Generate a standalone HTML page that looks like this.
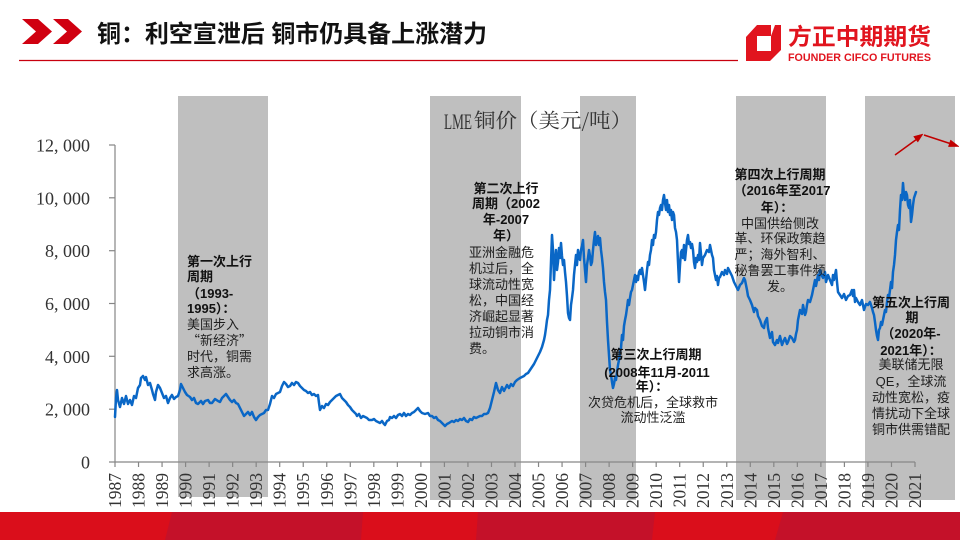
<!DOCTYPE html>
<html><head><meta charset="utf-8"><style>
html,body{margin:0;padding:0;background:#fff;}
svg{display:block;}
.ann{font-family:"Liberation Sans","Noto Sans CJK SC",sans-serif;font-size:13px;fill:#1e1e1e;}
.b{font-weight:700;fill:#111;}
.yl{font-family:"Liberation Serif","Noto Serif CJK SC",serif;font-size:18px;fill:#333;}
.xl{font-family:"Liberation Serif","Noto Serif CJK SC",serif;font-size:17.5px;fill:#333;}
</style></head><body>
<svg width="960" height="540" viewBox="0 0 960 540" xmlns="http://www.w3.org/2000/svg">
<rect x="0" y="0" width="960" height="540" fill="#fff"/>
<!-- header -->
<polygon points="22,19 38,19 52,31.5 38,44 22,44 36,31.5" fill="#D00010"/>
<polygon points="53,19 68,19 82,31.5 68,44 53,44 67,31.5" fill="#D00010"/>
<text x="97" y="42" textLength="390" lengthAdjust="spacing" font-family="'Liberation Sans','Noto Sans CJK SC',sans-serif" font-size="24" font-weight="700" fill="#111">铜：利空宣泄后 铜市仍具备上涨潜力</text>
<line x1="19" y1="60.5" x2="738" y2="60.5" stroke="#C8000E" stroke-width="1.2"/>
<!-- logo -->
<polygon points="757,25 781,25 781,50 770,61 746,61 746,37" fill="#E1141E"/>
<polygon points="757,36 771,36 771,51 757,51" fill="#fff"/>
<polygon points="771,25 775,25 771,36" fill="#fff"/>
<text x="788" y="44.5" textLength="143" lengthAdjust="spacingAndGlyphs" font-family="'Noto Sans CJK SC',sans-serif" font-size="23" font-weight="700" fill="#E1141E">方正中期期货</text>
<text x="788" y="61" textLength="143" lengthAdjust="spacingAndGlyphs" font-family="'Liberation Sans',sans-serif" font-size="11.2" font-weight="700" fill="#E1141E">FOUNDER CIFCO FUTURES</text>
<!-- bands -->
<g fill="#BFBFBF">
<rect x="178" y="96" width="90" height="401"/>
<rect x="430" y="96" width="91" height="404"/>
<rect x="580" y="96" width="56" height="404"/>
<rect x="736" y="96" width="90" height="404"/>
<rect x="865" y="96" width="90" height="404"/>
</g>
<!-- chart title -->
<text x="444" y="129" textLength="28" lengthAdjust="spacingAndGlyphs" font-family="'Liberation Serif',serif" font-size="22.5" fill="#333">LME</text>
<text x="474" y="127.5" textLength="158" lengthAdjust="spacingAndGlyphs" font-family="'Noto Serif CJK SC',serif" font-size="20" fill="#333">铜价（美元/吨）</text>
<!-- axes -->
<g stroke="#868686" stroke-width="1.2" fill="none">
<line x1="115" y1="145" x2="115" y2="462"/>
<line x1="109" y1="462" x2="915" y2="462"/>
<line x1="109" y1="145" x2="115" y2="145"/>
<line x1="109" y1="197.8" x2="115" y2="197.8"/>
<line x1="109" y1="250.7" x2="115" y2="250.7"/>
<line x1="109" y1="303.5" x2="115" y2="303.5"/>
<line x1="109" y1="356.3" x2="115" y2="356.3"/>
<line x1="109" y1="409.2" x2="115" y2="409.2"/>
<path d="M115 462v5M138.53 462v5M162.06 462v5M185.59 462v5M209.12 462v5M232.65 462v5M256.18 462v5M279.71 462v5M303.24 462v5M326.76 462v5M350.29 462v5M373.82 462v5M397.35 462v5M420.88 462v5M444.41 462v5M467.94 462v5M491.47 462v5M515 462v5M538.53 462v5M562.06 462v5M585.59 462v5M609.12 462v5M632.65 462v5M656.18 462v5M679.71 462v5M703.24 462v5M726.76 462v5M750.29 462v5M773.82 462v5M797.35 462v5M820.88 462v5M844.41 462v5M867.94 462v5M891.47 462v5M915 462v5"/>
</g>
<g class="yl" text-anchor="end">
<text x="90" y="151.5">12, 000</text>
<text x="90" y="204.3">10, 000</text>
<text x="90" y="257.2">8, 000</text>
<text x="90" y="310">6, 000</text>
<text x="90" y="362.8">4, 000</text>
<text x="90" y="415.7">2, 000</text>
<text x="90" y="468.5">0</text>
</g>
<g class="xl" text-anchor="end">
<text transform="translate(121,473) rotate(-90)">1987</text>
<text transform="translate(144.53,473) rotate(-90)">1988</text>
<text transform="translate(168.06,473) rotate(-90)">1989</text>
<text transform="translate(191.59,473) rotate(-90)">1990</text>
<text transform="translate(215.12,473) rotate(-90)">1991</text>
<text transform="translate(238.65,473) rotate(-90)">1992</text>
<text transform="translate(262.18,473) rotate(-90)">1993</text>
<text transform="translate(285.71,473) rotate(-90)">1994</text>
<text transform="translate(309.24,473) rotate(-90)">1995</text>
<text transform="translate(332.76,473) rotate(-90)">1996</text>
<text transform="translate(356.29,473) rotate(-90)">1997</text>
<text transform="translate(379.82,473) rotate(-90)">1998</text>
<text transform="translate(403.35,473) rotate(-90)">1999</text>
<text transform="translate(426.88,473) rotate(-90)">2000</text>
<text transform="translate(450.41,473) rotate(-90)">2001</text>
<text transform="translate(473.94,473) rotate(-90)">2002</text>
<text transform="translate(497.47,473) rotate(-90)">2003</text>
<text transform="translate(521,473) rotate(-90)">2004</text>
<text transform="translate(544.53,473) rotate(-90)">2005</text>
<text transform="translate(568.06,473) rotate(-90)">2006</text>
<text transform="translate(591.59,473) rotate(-90)">2007</text>
<text transform="translate(615.12,473) rotate(-90)">2008</text>
<text transform="translate(638.65,473) rotate(-90)">2009</text>
<text transform="translate(662.18,473) rotate(-90)">2010</text>
<text transform="translate(685.71,473) rotate(-90)">2011</text>
<text transform="translate(709.24,473) rotate(-90)">2012</text>
<text transform="translate(732.76,473) rotate(-90)">2013</text>
<text transform="translate(756.29,473) rotate(-90)">2014</text>
<text transform="translate(779.82,473) rotate(-90)">2015</text>
<text transform="translate(803.35,473) rotate(-90)">2016</text>
<text transform="translate(826.88,473) rotate(-90)">2017</text>
<text transform="translate(850.41,473) rotate(-90)">2018</text>
<text transform="translate(873.94,473) rotate(-90)">2019</text>
<text transform="translate(897.47,473) rotate(-90)">2020</text>
<text transform="translate(921,473) rotate(-90)">2021</text>
</g>
<!-- price line -->
<polyline fill="none" stroke="#0A67C6" stroke-width="2.5" stroke-linejoin="round" stroke-linecap="round" points="115,417 116,398 117,390 118,400 120,407 122,398 124,404 126,396 128,404 130,400 132,405 134,396 136,398 138,388 140,385 141,378 143,376 145,380 146,377 148,385 150,383 152,390 153,394 155,400 156,392 158,385 160,388 162,393 164,398 166,396 168,403 170,398 172,395 174,399 176,397 178,396 180,390 181,384 183,388 185,392 187,395 190,397 192,400 194,398 196,403 198,404 201,401 203,404 205,401 208,400 210,403 212,403 215,399 218,401 220,402 222,398 224,396 226,394 228,397 230,400 232,402 234,400 236,403 238,404 240,408 242,412 244,416 246,414 248,412 250,415 252,412 254,417 256,420 258,417 260,415 262,414 264,413 266,410 268,410 270,404 272,396 274,398 276,394 278,393 280,392 282,386 284,382 286,384 288,387 290,386 292,383 294,385 296,382 298,383 300,386 302,388 304,390 306,391 308,393 310,392 312,395 314,394 316,396 318,395 319,403 320,410 322,406 324,408 326,404 328,405 330,402 332,400 334,398 336,396 338,395 340,394 342,398 344,400 346,402 348,405 350,407 352,410 354,412 356,414 357,416 359,414 361,418 363,416 365,417 367,418 369,420 372,420 374,419 376,421 378,422 380,423 382,421 384,424 385,425 387,421 389,420 390,417 392,418 394,416 396,418 398,415 400,414 402,416 404,413 406,416 408,414 410,415 412,413 414,412 416,410 418,408 420,411 422,413 425,414 428,413 430,416 432,416 434,418 436,417 438,420 440,421 442,423 444,425 445,426 447,424 449,423 452,421 454,422 456,420 458,421 460,419 462,420 464,418 466,421 468,422 470,419 472,420 474,417 476,418 478,417 480,416 482,416 484,414 486,414 488,413 490,408 491,404 492,400 494,392 496,383 498,390 500,393 502,387 504,391 505,389 507,385 509,388 511,384 513,386 515,382 517,380 520,378 522,377 524,376 526,374 528,373 530,370 532,367 534,364 536,360 538,356 540,352 542,347 544,340 545,335 546,328 547,320 548,315 549,300 550,290 551,262 552,235 553,250 554,280 555,262 556,250 557,270 558,262 559,248 560,258 561,243 562,256 563,265 564,260 565,272 566,282 567,296 568,313 569,318 570,320 571,305 572,298 573,290 574,275 575,265 576,255 577,265 578,250 579,258 580,260 581,250 582,246 583,240 584,258 585,270 586,282 587,265 588,258 589,250 590,256 591,265 592,262 593,250 594,240 595,232 596,245 597,240 598,236 599,245 600,238 601,250 602,258 603,268 604,282 605,292 606,300 607,322 608,340 609,355 610,370 611,375 612,382 613,388 614,384 615,378 616,380 617,372 618,365 619,360 620,352 621,348 622,335 623,340 624,326 625,320 626,315 627,308 628,300 629,305 630,298 631,292 632,290 633,285 634,280 635,275 636,282 637,276 638,280 639,272 640,270 641,274 642,268 643,275 644,282 645,290 646,280 647,270 648,262 649,265 650,255 651,250 652,240 653,245 654,235 655,238 656,232 657,220 658,212 659,215 660,208 661,205 662,210 663,200 664,195 665,203 666,210 667,200 668,212 669,205 670,215 671,210 672,220 673,212 674,215 675,228 676,232 677,240 678,262 679,282 680,265 681,252 682,250 683,258 684,245 685,260 686,250 687,240 688,235 689,244 690,242 691,248 692,244 693,250 694,262 695,268 696,258 697,262 698,255 699,260 700,243 702,265 703,258 705,255 707,250 709,252 710,245 712,255 713,258 714,270 716,280 717,276 718,285 719,278 720,277 722,272 724,275 725,270 727,274 728,268 730,272 732,276 734,282 736,286 738,290 740,285 742,283 744,278 745,280 747,290 748,296 750,300 752,305 754,312 755,308 757,310 758,316 760,320 762,326 764,328 765,322 767,318 768,328 770,338 772,332 773,342 775,345 777,340 778,343 780,336 782,345 784,340 785,338 787,344 788,342 790,336 792,338 794,342 795,340 796,334 797,330 798,320 800,310 802,314 803,305 805,315 806,312 807,305 808,300 810,302 812,295 813,290 815,280 816,286 818,275 819,280 820,270 822,276 823,278 825,272 826,282 828,275 830,280 832,285 833,275 834,280 836,270 837,282 838,292 840,295 842,298 844,294 846,300 848,296 850,295 852,290 853,296 854,290 855,302 856,298 858,302 860,305 862,300 864,310 866,304 868,305 870,302 872,308 873,312 874,315 875,322 876,330 877,336 878,340 879,330 880,328 881,322 882,325 883,320 884,315 885,310 886,312 887,302 888,295 889,298 890,290 891,282 892,288 893,272 894,265 895,255 896,240 897,232 898,225 899,230 900,210 901,195 902,200 903,183 904,195 905,200 906,192 907,195 908,205 909,208 910,200 911,222 912,215 913,205 914,198 915,195 916,192"/>
<!-- annotations -->
<g class="ann">
<text class="b" x="187" y="266">第一次上行</text>
<text class="b" x="187" y="281">周期</text>
<text class="b" x="187" y="298">（1993-</text>
<text class="b" x="187" y="313">1995）：</text>
<text x="187" y="329">美国步入</text>
<text x="187" y="345" font-family="'Noto Sans CJK SC',sans-serif">“新经济”</text>
<text x="187" y="361">时代，铜需</text>
<text x="187" y="377">求高涨。</text>
</g>
<g class="ann">
<text class="b" x="506" y="193" text-anchor="middle">第二次上行</text>
<text class="b" x="506" y="208" text-anchor="middle">周期（2002</text>
<text class="b" x="506" y="224" text-anchor="middle">年-2007</text>
<text class="b" x="506" y="240" text-anchor="middle">年）</text>
<text x="469" y="257">亚洲金融危</text>
<text x="469" y="273">机过后，全</text>
<text x="469" y="289">球流动性宽</text>
<text x="469" y="305">松，中国经</text>
<text x="469" y="321">济崛起显著</text>
<text x="469" y="337">拉动铜市消</text>
<text x="469" y="353">费。</text>
</g>
<g class="ann" text-anchor="middle">
<text class="b" x="656" y="359">第三次上行周期</text>
<text class="b" x="657" y="377">(2008年11月-2011</text>
<text class="b" x="652" y="391">年）：</text>
<text x="653" y="407">次贷危机后，全球救市</text>
<text x="653" y="422">流动性泛滥</text>
</g>
<g class="ann" text-anchor="middle">
<text class="b" x="780" y="179">第四次上行周期</text>
<text class="b" x="782" y="195">（2016年至2017</text>
<text class="b" x="777" y="212">年）：</text>
<text x="780" y="228">中国供给侧改</text>
<text x="780" y="243">革、环保政策趋</text>
<text x="780" y="259">严；海外智利、</text>
<text x="780" y="275">秘鲁罢工事件频</text>
<text x="780" y="291">发。</text>
</g>
<g class="ann" text-anchor="middle">
<text class="b" x="911" y="307">第五次上行周</text>
<text class="b" x="912" y="322">期</text>
<text class="b" x="911" y="338">（2020年-</text>
<text class="b" x="911" y="355">2021年）：</text>
<text x="911" y="369">美联储无限</text>
<text x="911" y="386">QE，全球流</text>
<text x="911" y="402">动性宽松，疫</text>
<text x="911" y="418">情扰动下全球</text>
<text x="911" y="434">铜市供需错配</text>
</g>
<!-- red arrows -->
<g fill="#C00000" stroke="#C00000">
<line x1="895" y1="155" x2="917" y2="139" stroke-width="1.5"/>
<polygon points="923,134 917.8,142.1 913.6,136.5" stroke-width="0.5"/>
<line x1="924" y1="135" x2="950" y2="143.5" stroke-width="1.5"/>
<polygon points="959,146.5 948.4,146.6 950.6,140" stroke-width="0.5"/>
</g>
<!-- bottom bar -->
<rect x="0" y="512" width="960" height="28" fill="#DA0E1B"/>
<polygon points="172,512 363,512 361,540 165,540" fill="#C41129"/>
<polygon points="478,512 655,512 652,540 476,540" fill="#C41129"/>
<polygon points="783,512 960,512 960,540 775,540" fill="#C41129"/>
</svg>
</body></html>
